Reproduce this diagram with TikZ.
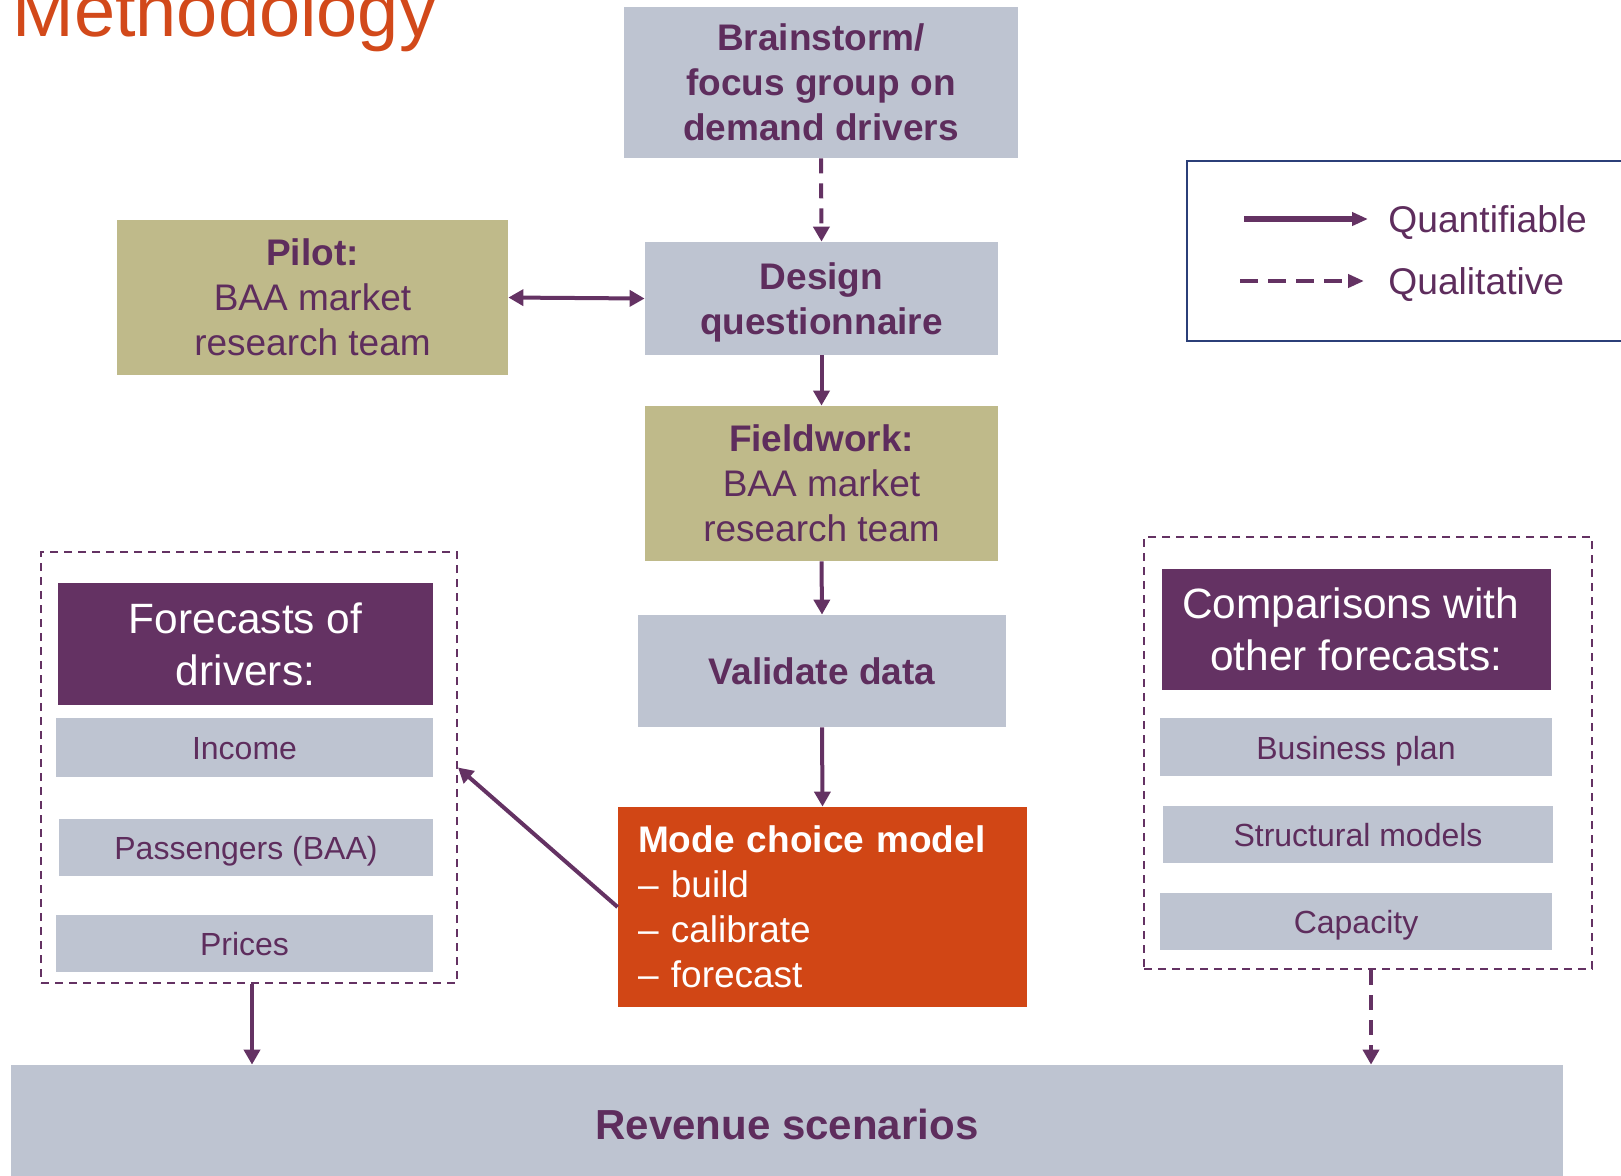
\documentclass[tikz,border=0pt]{standalone}
\usepackage{fontspec}
\setmainfont{Liberation Sans}
\usetikzlibrary{arrows.meta}
\definecolor{gbox}{HTML}{BEC4D1}
\definecolor{obox}{HTML}{BFBA8A}
\definecolor{purp}{HTML}{643263}
\definecolor{ptext}{HTML}{5E2D5D}
\definecolor{oran}{HTML}{D14615}
\definecolor{title}{HTML}{D2491A}
\definecolor{navy}{HTML}{2B3F78}
\tikzset{
  base/.style={draw=none, inner sep=0pt, align=center, text=ptext},
  gray/.style={base, fill=gbox},
  olive/.style={base, fill=obox},
  head/.style={base, fill=purp, text=white, font=\fontsize{21.2}{26}\selectfont},
  item/.style={gray, font=\fontsize{16}{19}\selectfont, text height=12pt, text depth=0pt},
  big/.style={font=\fontsize{18.5}{22.5}\selectfont},
  group/.style={draw=purp, line width=1pt, dash pattern=on 4pt off 3pt, inner sep=0pt},
  flow/.style={draw=purp, line width=2pt, -{Triangle[length=7.5pt,width=8pt]}},
  qual/.style={flow, dash pattern=on 7.5pt off 5pt},
}
\begin{document}
\begin{tikzpicture}[x=0.5pt,y=-0.5pt]
\useasboundingbox (0,0) rectangle (1621,1175);
\clip (0,0) rectangle (1621,1175);

\node[anchor=base west, inner sep=0pt, text=title, font=\fontsize{37}{40}\selectfont] (title) at (12,36) {Methodology};

\node[gray, big, minimum width=197pt, minimum height=75.5pt] (brain) at (821,82.5)
  {\textbf{Brainstorm/}\\\textbf{focus group on}\\\textbf{demand drivers}};
\node[gray, big, font=\fontsize{18.5}{22.5}\selectfont\bfseries, minimum width=176.5pt, minimum height=56.5pt] (design) at (821.5,298.5)
  {\rule{0pt}{17pt}Design\\questionnaire};
\node[olive, big, minimum width=195.5pt, minimum height=77.5pt] (pilot) at (312.5,297.5)
  {\textbf{Pilot:}\\BAA market\\research team};
\node[olive, big, minimum width=176.5pt, minimum height=77.5pt] (field) at (821.5,483.5)
  {\textbf{Fieldwork:}\\BAA market\\research team};
\node[gray, big, font=\fontsize{18.5}{22}\selectfont\bfseries, minimum width=184pt, minimum height=56pt] (valid) at (822,671)
  {Validate data};
\node[base, fill=oran, text=white, align=left, font=\fontsize{18.5}{22.5}\selectfont,
  text width=184.5pt, inner xsep=10pt, minimum width=204.5pt, minimum height=100pt] (mode) at (822.5,907)
  {\textbf{Mode choice model}\\– build\\– calibrate\\– forecast};
\node[gray, font=\fontsize{21}{25}\selectfont\bfseries, minimum width=776pt, minimum height=59pt] (rev) at (787,1124)
  {Revenue scenarios};

% left group
\node[group, minimum width=208pt, minimum height=215.5pt] (lbox) at (249,767.5) {};
\node[head, minimum width=187.5pt, minimum height=61pt] (fhead) at (245.5,644) {Forecasts of\\drivers:};
\node[item, minimum width=188.5pt, minimum height=29.5pt] (income) at (244.5,747.5) {Income};
\node[item, minimum width=187pt, minimum height=28.5pt] (pass) at (246,847.5) {Passengers (BAA)};
\node[item, minimum width=188.5pt, minimum height=28.5pt] (prices) at (244.5,943.5) {Prices};

% right group
\node[group, minimum width=224pt, minimum height=216pt] (rbox) at (1368,753) {};
\node[head, minimum width=194.5pt, minimum height=60.5pt] (chead) at (1356.5,629.5) {Comparisons with\hspace*{6pt}\\other forecasts:};
\node[item, minimum width=196pt, minimum height=29pt] (bplan) at (1356,747) {Business plan};
\node[item, minimum width=195pt, minimum height=28.5pt] (struct) at (1358,834.5) {Structural models};
\node[item, minimum width=196pt, minimum height=28.5pt] (cap) at (1356,921.5) {Capacity};

% legend
\node[draw=navy, line width=0.8pt, inner sep=0pt, minimum width=230pt, minimum height=90pt] (legend) at (1417,251) {};
\coordinate (q1) at (1244,219);
\coordinate (q2) at (1368,219);
\coordinate (l1) at (1240,281);
\coordinate (l2) at (1364,281);
\draw[draw=purp, line width=2.8pt, -{Triangle[length=8pt,width=6.5pt]}] (q1) -- (q2);
\draw[draw=purp, line width=2pt, dash pattern=on 9pt off 5pt, -{Triangle[length=8pt,width=6.5pt]}] (l1) -- (l2);
\node[anchor=west, inner sep=0pt, text=ptext, font=\fontsize{18.6}{22}\selectfont] (lq) at (1388,223) {Quantifiable};
\node[anchor=west, inner sep=0pt, text=ptext, font=\fontsize{18.6}{22}\selectfont] (ll) at (1388,285) {Qualitative};

% connectors
\draw[qual] (brain.south) -- (design.north);
\draw[flow, {Triangle[length=7.5pt,width=8pt]}-{Triangle[length=7.5pt,width=8pt]}] (pilot.east) -- (design.west);
\draw[flow] (design.south) -- (field.north);
\draw[flow] (field.south) -- (valid.north);
\draw[flow] (valid.south) -- (mode.north);
\draw[flow] (mode.west) -- (lbox.east);
\draw[flow] ([xshift=1.5pt]lbox.south) -- ([xshift=1.5pt]lbox.south |- rev.north);
\draw[qual] ([xshift=1.5pt]rbox.south) -- ([xshift=1.5pt]rbox.south |- rev.north);
\end{tikzpicture}
\end{document}
